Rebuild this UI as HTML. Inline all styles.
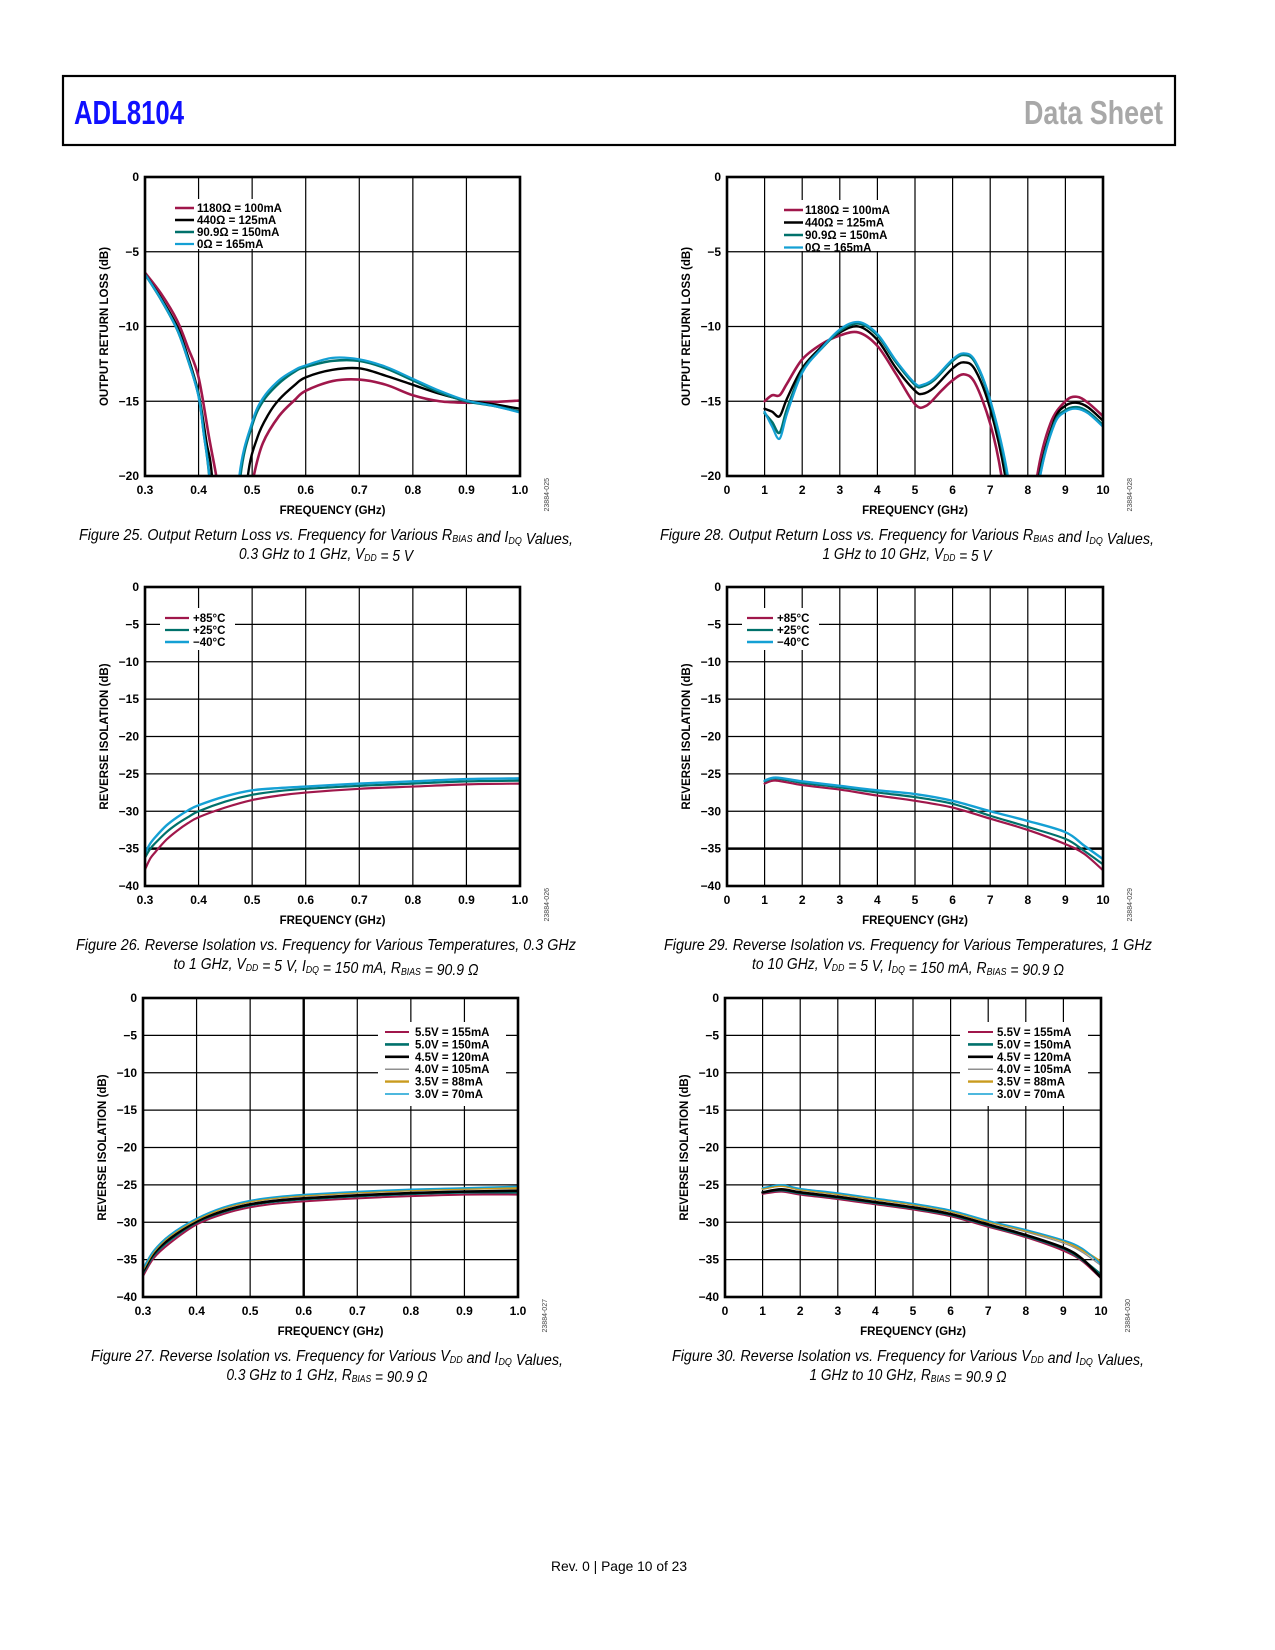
<!DOCTYPE html>
<html><head><meta charset="utf-8">
<style>
html,body{margin:0;padding:0;background:#fff;}
svg{display:block;}
text{font-family:"Liberation Sans",sans-serif;}
.tick{font-size:12px;font-weight:bold;fill:#000;}
.atitle{font-size:11.5px;font-weight:bold;fill:#000;}
.leg{font-size:11.5px;font-weight:bold;fill:#000;}
.cap{font-family:"Liberation Sans Narrow","Liberation Sans",sans-serif;font-style:italic;font-size:16px;fill:#000;}
.code{font-size:7px;fill:#444;}
</style></head>
<body>
<svg id="page" width="1275" height="1650" viewBox="0 0 1275 1650" xmlns="http://www.w3.org/2000/svg">
<rect x="63" y="76" width="1112" height="69" fill="none" stroke="#000" stroke-width="2.2"/>
<text x="74" y="124" textLength="110" lengthAdjust="spacingAndGlyphs" style="font-weight:bold;font-size:33px;fill:#1010ff">ADL8104</text>
<text x="1024" y="124" textLength="139" lengthAdjust="spacingAndGlyphs" style="font-weight:bold;font-size:33px;fill:#a8a8a8">Data Sheet</text>
<text x="619" y="1571" text-anchor="middle" textLength="136" lengthAdjust="spacingAndGlyphs" style="font-size:14px;fill:#000">Rev. 0 | Page 10 of 23</text>
<g id="charts"></g>
</svg>
<script>
// ---------- Figure 25 data (0.3–1 GHz output return loss) ----------
const f25_red_x=[0.3,0.33,0.36,0.38,0.4,0.42,0.433,0.44,0.46,0.48,0.495,0.503,0.52,0.55,0.58,0.6,0.65,0.7,0.75,0.8,0.85,0.9,0.95,1.0];
const f25_red_y=[-6.4,-7.8,-9.6,-11.4,-13.4,-17.5,-20,-22,-30,-30,-22,-20,-17.8,-16.0,-14.9,-14.3,-13.65,-13.55,-13.9,-14.6,-15.0,-15.1,-15.05,-14.95];
const f25_blk_x=[0.3,0.33,0.36,0.38,0.4,0.415,0.425,0.44,0.46,0.48,0.492,0.51,0.53,0.55,0.58,0.6,0.65,0.7,0.75,0.8,0.85,0.9,0.95,1.0];
const f25_blk_y=[-6.5,-8.1,-10.0,-12.0,-14.5,-17.8,-20,-28,-30,-26,-20,-17.4,-15.9,-14.9,-13.9,-13.4,-12.9,-12.8,-13.3,-13.9,-14.5,-14.95,-15.2,-15.5];
const f25_teal_x=[0.3,0.33,0.36,0.38,0.4,0.41,0.42,0.44,0.46,0.478,0.5,0.52,0.55,0.58,0.6,0.65,0.7,0.75,0.8,0.85,0.9,0.95,1.0];
const f25_teal_y=[-6.5,-8.2,-10.2,-12.2,-14.6,-17.2,-20,-28,-28,-20,-16.6,-15.0,-13.8,-13.0,-12.7,-12.3,-12.3,-12.8,-13.6,-14.4,-15.0,-15.3,-15.7];
const f25_blue_x=[0.3,0.33,0.36,0.38,0.4,0.41,0.42,0.44,0.46,0.476,0.5,0.52,0.55,0.58,0.6,0.65,0.7,0.75,0.8,0.85,0.9,0.95,1.0];
const f25_blue_y=[-6.5,-8.2,-10.2,-12.2,-14.7,-17.3,-20,-28,-28,-20,-16.4,-14.8,-13.6,-12.9,-12.6,-12.1,-12.2,-12.7,-13.5,-14.3,-14.95,-15.3,-15.75];
// ---------- Figure 28 data (1–10 GHz output return loss) ----------
const f28_red_x=[1,1.2,1.4,1.6,2,2.5,3,3.5,4,4.5,5,5.3,5.7,6,6.3,6.6,7,7.3,7.6,8.0,8.25,8.6,9,9.3,9.6,10];
const f28_red_y=[-15,-14.6,-14.6,-13.8,-12.2,-11.2,-10.6,-10.4,-11.3,-13.2,-15.2,-15.3,-14.3,-13.6,-13.2,-13.8,-16.5,-20,-26,-26,-20,-16.5,-15.0,-14.7,-15.1,-16.0];
const f28_blk_x=[1,1.2,1.4,1.6,2,2.5,3,3.5,4,4.5,5,5.2,5.5,6,6.3,6.6,7,7.4,7.7,8.0,8.3,8.7,9,9.3,9.6,10];
const f28_blk_y=[-15.5,-15.7,-16.0,-14.8,-12.8,-11.4,-10.4,-10.0,-10.9,-12.8,-14.3,-14.5,-14.1,-12.8,-12.4,-12.9,-15.5,-20,-26,-26,-20,-16.3,-15.3,-15.1,-15.4,-16.3];
const f28_teal_x=[1,1.2,1.4,1.6,2,2.5,3,3.5,4,4.5,5,5.2,5.5,6,6.3,6.6,7,7.45,7.7,8.0,8.32,8.7,9,9.3,9.6,10];
const f28_teal_y=[-15.8,-16.4,-17.1,-15.5,-13.0,-11.5,-10.3,-9.8,-10.6,-12.4,-13.9,-14.0,-13.6,-12.3,-11.9,-12.4,-15.0,-20,-26,-26,-20,-16.5,-15.6,-15.4,-15.7,-16.6];
const f28_blue_x=[1,1.2,1.4,1.6,2,2.5,3,3.5,4,4.5,5,5.2,5.5,6,6.3,6.6,7,7.47,7.7,8.0,8.33,8.7,9,9.3,9.6,10];
const f28_blue_y=[-15.7,-16.7,-17.5,-15.8,-13.1,-11.5,-10.2,-9.7,-10.5,-12.3,-13.8,-13.9,-13.5,-12.2,-11.8,-12.3,-14.9,-20,-26,-26,-20,-16.6,-15.7,-15.5,-15.8,-16.7];
// ---------- Figure 26 data ----------
const f26_x=[0.3,0.31,0.32,0.34,0.36,0.38,0.4,0.45,0.5,0.55,0.6,0.7,0.8,0.9,1.0];
const f26_red=[-37.8,-36.3,-35.4,-33.8,-32.6,-31.6,-30.8,-29.5,-28.5,-27.9,-27.5,-27.0,-26.7,-26.4,-26.3];
const f26_teal=[-36.2,-35.0,-34.2,-32.8,-31.7,-30.8,-30.0,-28.7,-27.8,-27.3,-27.0,-26.6,-26.3,-26.0,-25.9];
const f26_blue=[-35.6,-34.3,-33.4,-31.9,-30.8,-29.9,-29.2,-28.0,-27.2,-26.9,-26.7,-26.3,-26.0,-25.7,-25.6];
// ---------- Figure 29 data ----------
const f29_x=[1,1.3,2,3,4,5,6,7,8,9,9.5,10];
const f29_red=[-26.3,-25.9,-26.5,-27.1,-27.9,-28.6,-29.5,-31.0,-32.5,-34.4,-35.7,-37.9];
const f29_teal=[-26.0,-25.6,-26.2,-26.8,-27.5,-28.1,-29.0,-30.6,-32.1,-33.7,-35.3,-37.1];
const f29_blue=[-25.9,-25.5,-26.0,-26.6,-27.2,-27.7,-28.6,-30.0,-31.3,-32.8,-34.6,-36.4];
// ---------- Figure 27 data ----------
const f27_x=[0.3,0.32,0.35,0.4,0.45,0.5,0.55,0.6,0.7,0.8,0.9,1.0];
const f27_v55=[-37.2,-34.8,-32.8,-30.3,-28.9,-28.0,-27.5,-27.2,-26.8,-26.5,-26.3,-26.3];
const f27_v50=[-36.8,-34.4,-32.4,-30.0,-28.6,-27.7,-27.2,-26.9,-26.5,-26.2,-26.0,-26.0];
const f27_v45=[-36.6,-34.2,-32.2,-29.9,-28.5,-27.6,-27.1,-26.8,-26.4,-26.1,-25.9,-25.8];
const f27_v40=[-36.4,-34.0,-31.9,-29.7,-28.2,-27.3,-26.8,-26.5,-26.1,-25.8,-25.6,-25.5];
const f27_v35=[-36.3,-33.9,-31.8,-29.6,-28.1,-27.2,-26.7,-26.4,-26.0,-25.7,-25.5,-25.4];
const f27_v30=[-36.2,-33.8,-31.7,-29.5,-28.0,-27.1,-26.6,-26.3,-25.9,-25.6,-25.4,-25.2];
// ---------- Figure 30 data ----------
const f30_x=[1,1.5,2,3,4,5,6,7,8,9,9.5,10];
const f30_v55=[-26.2,-25.9,-26.3,-26.9,-27.6,-28.3,-29.2,-30.6,-32.0,-33.8,-35.2,-37.5];
const f30_v50=[-26.0,-25.7,-26.1,-26.7,-27.4,-28.1,-29.0,-30.4,-31.8,-33.5,-35.0,-37.0];
const f30_v45=[-26.0,-25.6,-26.0,-26.6,-27.3,-28.0,-28.9,-30.3,-31.7,-33.4,-34.9,-37.4];
const f30_v40=[-25.6,-25.2,-25.7,-26.3,-27.0,-27.7,-28.6,-30.0,-31.3,-32.8,-34.0,-35.8];
const f30_v35=[-25.5,-25.1,-25.6,-26.2,-26.9,-27.6,-28.5,-29.9,-31.1,-32.5,-33.7,-35.3];
const f30_v30=[-25.4,-25.0,-25.5,-26.1,-26.8,-27.5,-28.4,-29.8,-31.0,-32.4,-33.5,-35.6];
// ---------- tick labels ----------
const xTicksLow=[0.3,0.4,0.5,0.6,0.7,0.8,0.9,1.0];
const xTickLabelsLow=["0.3","0.4","0.5","0.6","0.7","0.8","0.9","1.0"];
const xTicksHigh=[0,1,2,3,4,5,6,7,8,9,10];
const xTickLabelsHigh=["0","1","2","3","4","5","6","7","8","9","10"];
const yTicksRL=[0,-5,-10,-15,-20];
const yTickLabelsRL=["0","\u22125","\u221210","\u221215","\u221220"];
const yTicksIso=[0,-5,-10,-15,-20,-25,-30,-35,-40];
const yTickLabelsIso=["0","\u22125","\u221210","\u221215","\u221220","\u221225","\u221230","\u221235","\u221240"];

const RED="#a0174b",BLK="#000000",TEAL="#00716b",BLUE="#14a0d4",GRAY="#8f8f8f",GOLD="#c99b1e";
const NS="http://www.w3.org/2000/svg";
const root=document.getElementById('charts');
function mk(tag,attrs,parent){const e=document.createElementNS(NS,tag);for(const k in attrs)e.setAttribute(k,attrs[k]);(parent||root).appendChild(e);return e;}
function smoothPath(pts){
  let d="M"+pts[0][0].toFixed(2)+","+pts[0][1].toFixed(2);
  for(let i=0;i<pts.length-1;i++){
    const p0=pts[i-1]||pts[i],p1=pts[i],p2=pts[i+1],p3=pts[i+2]||p2;
    const c1=[p1[0]+(p2[0]-p0[0])/6,p1[1]+(p2[1]-p0[1])/6];
    const c2=[p2[0]-(p3[0]-p1[0])/6,p2[1]-(p3[1]-p1[1])/6];
    d+=" C"+c1[0].toFixed(2)+","+c1[1].toFixed(2)+" "+c2[0].toFixed(2)+","+c2[1].toFixed(2)+" "+p2[0].toFixed(2)+","+p2[1].toFixed(2);
  }
  return d;
}
let clipN=0;
function chart(c){
  const g=mk('g',{});
  
  
  const sx=v=>c.x+(v-c.xmin)/(c.xmax-c.xmin)*c.w;
  const sy=v=>c.y+(c.ymax-v)/(c.ymax-c.ymin)*c.h;
  c.xt.forEach((v,i)=>{
    const ln=mk('line',{x1:sx(v),x2:sx(v),y1:c.y,y2:c.y+c.h,stroke:"#000","stroke-width":(c.thickX===v?2.4:1.2)},g);
    
    
    const t=mk('text',{x:sx(v),y:c.y+c.h+18,"text-anchor":"middle",class:"tick"},g);
    t.textContent=c.xl[i];
    
    
  });
  c.yt.forEach((v,i)=>{
    const ln=mk('line',{x1:c.x,x2:c.x+c.w,y1:sy(v),y2:sy(v),stroke:"#000","stroke-width":(c.thickY===v?2.4:1.2)},g);
    
    
    const t=mk('text',{x:c.x-6,y:sy(v)+4,"text-anchor":"end",class:"tick"},g);
    t.textContent=c.yl[i];
    
    
  });
  const lb=c.legend;
  const bg=mk('rect',{x:lb.bx,y:lb.by,width:lb.bw,height:lb.bh,fill:"#fff"},g);
  
  
  const id="clip"+(clipN++);
  const cp=mk('clipPath',{id:id},g);
  mk('rect',{x:c.x,y:c.y,width:c.w,height:c.h},cp);
  const sg=mk('g',{"clip-path":"url(#"+id+")"},g);
  c.series.forEach(s=>{
    const pts=s.xs.map((xv,i)=>[sx(xv),sy(s.ys[i])]);
    const p=mk('path',{d:smoothPath(pts),fill:"none",stroke:s.color,"stroke-width":s.w,"stroke-linejoin":"round","stroke-linecap":"round"},sg);
    
    
  });
  const fr=mk('rect',{x:c.x,y:c.y,width:c.w,height:c.h,fill:"none",stroke:"#000","stroke-width":2.6},g);
  
  
  c.series.forEach((s,i)=>{
    const yy=lb.y+i*lb.dy;
    const l=mk('line',{x1:lb.lx1,x2:lb.lx2,y1:yy,y2:yy,stroke:s.color,"stroke-width":Math.max(s.w,1.5)},g);
    
    
    const t=mk('text',{x:lb.tx,y:yy+4,class:"leg"},g);
    t.textContent=s.label;
    
    
  });
  const xt=mk('text',{x:c.x+c.w/2,y:c.y+c.h+38,"text-anchor":"middle",class:"atitle"},g);
  xt.textContent="FREQUENCY (GHz)";
  
  
  const ytx=c.x-37, yty=c.y+c.h/2;
  const yt=mk('text',{x:ytx,y:yty,"text-anchor":"middle",class:"atitle",transform:"rotate(-90 "+ytx+" "+yty+")"},g);
  yt.textContent=c.ytitle;
  
  
  const cx=c.x+c.w+29, cy=c.y+c.h+2;
  const code=mk('text',{x:cx,y:cy,"text-anchor":"end",class:"code",transform:"rotate(-90 "+cx+" "+cy+")"},g);
  code.textContent=c.code;
  
  
  const c1=mk('text',{x:c.capX-c.capW1/2,y:c.y+c.h+64,class:"cap",textLength:c.capW1,lengthAdjust:"spacingAndGlyphs"},g);
  c1.innerHTML=c.cap1;
  
  
  const c2=mk('text',{x:c.capX-c.capW2/2,y:c.y+c.h+83,class:"cap",textLength:c.capW2,lengthAdjust:"spacingAndGlyphs"},g);
  c2.innerHTML=c.cap2;
  
  
}
const sub=t=>'<tspan font-size="10" dy="2">'+t+'</tspan><tspan dy="-2"></tspan>';
const L={x:145,w:375}, R={x:727,w:376};
const rows=[177,587,998];

chart({name:"figure-25-chart",x:L.x,y:rows[0],w:L.w,h:299,xmin:0.3,xmax:1.0,ymin:-20,ymax:0,xt:xTicksLow,xl:xTickLabelsLow,yt:yTicksRL,yl:yTickLabelsRL,
 ytitle:"OUTPUT RETURN LOSS (dB)",code:"23884-025",capX:326,capW1:494,capW2:174,
 cap1:"Figure 25. Output Return Loss vs. Frequency for Various R"+sub("BIAS")+" and I"+sub("DQ")+" Values,",
 cap2:"0.3 GHz to 1 GHz, V"+sub("DD")+" = 5 V",
 legend:{bx:168,by:199,bw:125,bh:50,lx1:175,lx2:194,tx:197,y:208,dy:12},
 series:[{id:"series-1180ohm-100ma",label:"1180\u03A9 = 100mA",xs:f25_red_x,ys:f25_red_y,color:RED,w:2.6},
  {id:"series-440ohm-125ma",label:"440\u03A9 = 125mA",xs:f25_blk_x,ys:f25_blk_y,color:BLK,w:2.4},
  {id:"series-90-9ohm-150ma",label:"90.9\u03A9 = 150mA",xs:f25_teal_x,ys:f25_teal_y,color:TEAL,w:2.6},
  {id:"series-0ohm-165ma",label:"0\u03A9 = 165mA",xs:f25_blue_x,ys:f25_blue_y,color:BLUE,w:2.2}]});

chart({name:"figure-28-chart",x:R.x,y:rows[0],w:R.w,h:299,xmin:0,xmax:10,ymin:-20,ymax:0,xt:xTicksHigh,xl:xTickLabelsHigh,yt:yTicksRL,yl:yTickLabelsRL,
 ytitle:"OUTPUT RETURN LOSS (dB)",code:"23884-028",capX:907,capW1:494,capW2:169,
 cap1:"Figure 28. Output Return Loss vs. Frequency for Various R"+sub("BIAS")+" and I"+sub("DQ")+" Values,",
 cap2:"1 GHz to 10 GHz, V"+sub("DD")+" = 5 V",
 legend:{bx:777,by:200,bw:126,bh:51,lx1:784,lx2:803,tx:805,y:210,dy:12.5},
 series:[{id:"series-1180ohm-100ma",label:"1180\u03A9 = 100mA",xs:f28_red_x,ys:f28_red_y,color:RED,w:2.6},
  {id:"series-440ohm-125ma",label:"440\u03A9 = 125mA",xs:f28_blk_x,ys:f28_blk_y,color:BLK,w:2.4},
  {id:"series-90-9ohm-150ma",label:"90.9\u03A9 = 150mA",xs:f28_teal_x,ys:f28_teal_y,color:TEAL,w:2.6},
  {id:"series-0ohm-165ma",label:"0\u03A9 = 165mA",xs:f28_blue_x,ys:f28_blue_y,color:BLUE,w:2.2}]});

chart({name:"figure-26-chart",x:L.x,y:rows[1],w:L.w,h:299,xmin:0.3,xmax:1.0,ymin:-40,ymax:0,xt:xTicksLow,xl:xTickLabelsLow,yt:yTicksIso,yl:yTickLabelsIso,thickY:-35,
 ytitle:"REVERSE ISOLATION (dB)",code:"23884-026",capX:326,capW1:500,capW2:305,
 cap1:"Figure 26. Reverse Isolation vs. Frequency for Various Temperatures, 0.3 GHz",
 cap2:"to 1 GHz, V"+sub("DD")+" = 5 V, I"+sub("DQ")+" = 150 mA, R"+sub("BIAS")+" = 90.9 \u03A9",
 legend:{bx:160,by:608,bw:75,bh:42,lx1:165,lx2:189,tx:193,y:618,dy:12},
 series:[{id:"series-plus-85c",label:"+85\u00B0C",xs:f26_x,ys:f26_red,color:RED,w:2.2},
  {id:"series-plus-25c",label:"+25\u00B0C",xs:f26_x,ys:f26_teal,color:TEAL,w:2.2},
  {id:"series-minus-40c",label:"\u221240\u00B0C",xs:f26_x,ys:f26_blue,color:BLUE,w:2.4}]});

chart({name:"figure-29-chart",x:R.x,y:rows[1],w:R.w,h:299,xmin:0,xmax:10,ymin:-40,ymax:0,xt:xTicksHigh,xl:xTickLabelsHigh,yt:yTicksIso,yl:yTickLabelsIso,thickY:-35,
 ytitle:"REVERSE ISOLATION (dB)",code:"23884-029",capX:908,capW1:488,capW2:312,
 cap1:"Figure 29. Reverse Isolation vs. Frequency for Various Temperatures, 1 GHz",
 cap2:"to 10 GHz, V"+sub("DD")+" = 5 V, I"+sub("DQ")+" = 150 mA, R"+sub("BIAS")+" = 90.9 \u03A9",
 legend:{bx:742,by:608,bw:77,bh:42,lx1:747,lx2:773,tx:777,y:618,dy:12},
 series:[{id:"series-plus-85c",label:"+85\u00B0C",xs:f29_x,ys:f29_red,color:RED,w:2.2},
  {id:"series-plus-25c",label:"+25\u00B0C",xs:f29_x,ys:f29_teal,color:TEAL,w:2.2},
  {id:"series-minus-40c",label:"\u221240\u00B0C",xs:f29_x,ys:f29_blue,color:BLUE,w:2.4}]});

chart({name:"figure-27-chart",x:143,y:rows[2],w:375,h:299,xmin:0.3,xmax:1.0,ymin:-40,ymax:0,xt:xTicksLow,xl:xTickLabelsLow,yt:yTicksIso,yl:yTickLabelsIso,thickX:0.6,
 ytitle:"REVERSE ISOLATION (dB)",code:"23884-027",capX:327,capW1:472,capW2:201,
 cap1:"Figure 27. Reverse Isolation vs. Frequency for Various V"+sub("DD")+" and I"+sub("DQ")+" Values,",
 cap2:"0.3 GHz to 1 GHz, R"+sub("BIAS")+" = 90.9 \u03A9",
 legend:{bx:378,by:1022,bw:128,bh:84,lx1:385,lx2:409,tx:415,y:1032,dy:12.4},
 series:[{id:"series-5-5v-155ma",label:"5.5V = 155mA",xs:f27_x,ys:f27_v55,color:RED,w:2},
  {id:"series-5-0v-150ma",label:"5.0V = 150mA",xs:f27_x,ys:f27_v50,color:TEAL,w:2.6},
  {id:"series-4-5v-120ma",label:"4.5V = 120mA",xs:f27_x,ys:f27_v45,color:BLK,w:2.6},
  {id:"series-4-0v-105ma",label:"4.0V = 105mA",xs:f27_x,ys:f27_v40,color:GRAY,w:1.3},
  {id:"series-3-5v-88ma",label:"3.5V = 88mA",xs:f27_x,ys:f27_v35,color:GOLD,w:2.4},
  {id:"series-3-0v-70ma",label:"3.0V = 70mA",xs:f27_x,ys:f27_v30,color:BLUE,w:1.6}]});

chart({name:"figure-30-chart",x:725,y:rows[2],w:376,h:299,xmin:0,xmax:10,ymin:-40,ymax:0,xt:xTicksHigh,xl:xTickLabelsHigh,yt:yTicksIso,yl:yTickLabelsIso,
 ytitle:"REVERSE ISOLATION (dB)",code:"23884-030",capX:908,capW1:472,capW2:197,
 cap1:"Figure 30. Reverse Isolation vs. Frequency for Various V"+sub("DD")+" and I"+sub("DQ")+" Values,",
 cap2:"1 GHz to 10 GHz, R"+sub("BIAS")+" = 90.9 \u03A9",
 legend:{bx:960,by:1022,bw:128,bh:84,lx1:968,lx2:993,tx:997,y:1032,dy:12.4},
 series:[{id:"series-5-5v-155ma",label:"5.5V = 155mA",xs:f30_x,ys:f30_v55,color:RED,w:2},
  {id:"series-5-0v-150ma",label:"5.0V = 150mA",xs:f30_x,ys:f30_v50,color:TEAL,w:2.6},
  {id:"series-4-5v-120ma",label:"4.5V = 120mA",xs:f30_x,ys:f30_v45,color:BLK,w:2.6},
  {id:"series-4-0v-105ma",label:"4.0V = 105mA",xs:f30_x,ys:f30_v40,color:GRAY,w:1.3},
  {id:"series-3-5v-88ma",label:"3.5V = 88mA",xs:f30_x,ys:f30_v35,color:GOLD,w:2.4},
  {id:"series-3-0v-70ma",label:"3.0V = 70mA",xs:f30_x,ys:f30_v30,color:BLUE,w:1.6}]});
</script>
</body></html>
